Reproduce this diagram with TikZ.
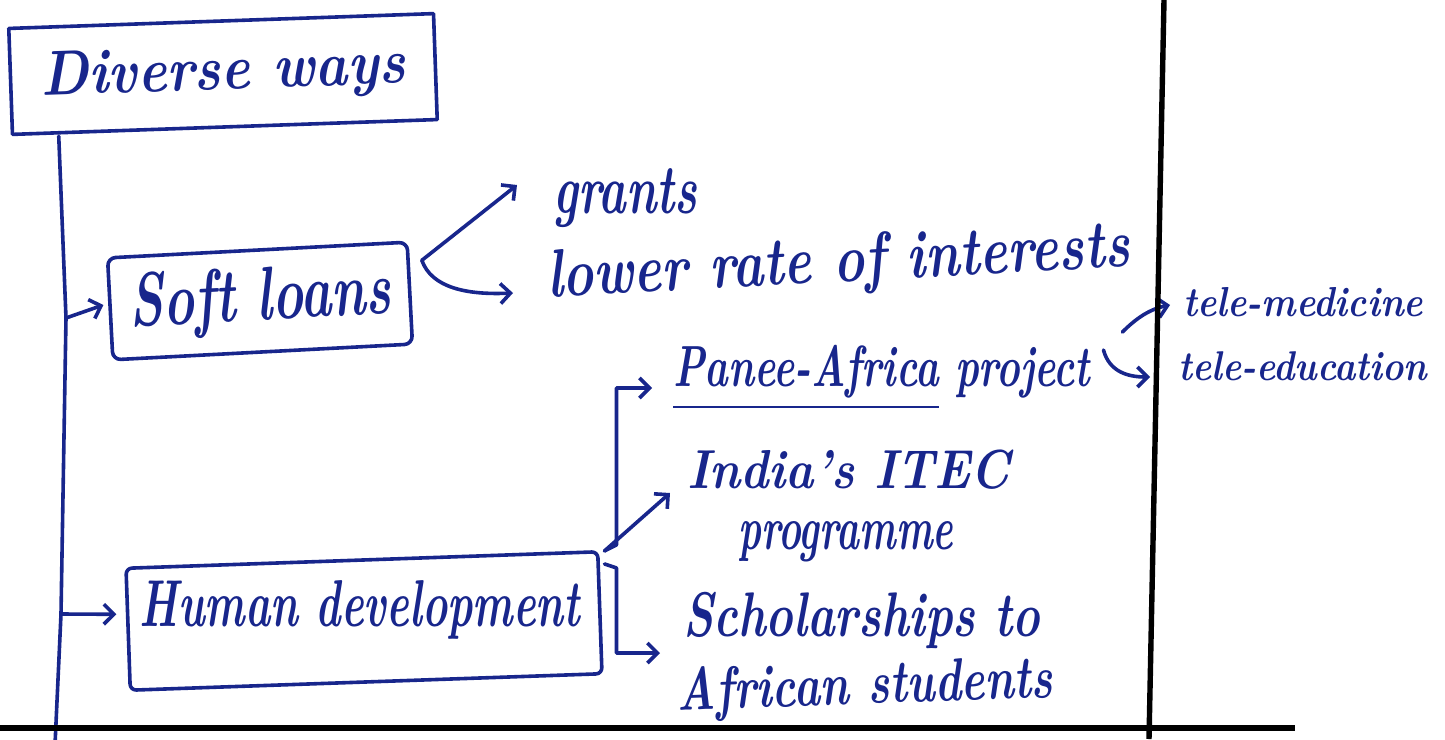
\documentclass[tikz,border=0pt]{standalone}
\usepackage{graphicx}
\usetikzlibrary{arrows.meta}
\definecolor{ink}{RGB}{24,38,140}
% scale a label to a given width (in pt), then stretch it vertically
\newcommand\fitw[3]{\scalebox{1}[#2]{\resizebox{#1pt}{!}{#3}}}
\begin{document}
\begin{tikzpicture}[x=1pt,y=-1pt,
  pen/.style={draw=ink,line width=3.6pt,line cap=round,line join=round},
  arr/.style={pen,-{Straight Barb[length=10pt,width=20pt]}},
  box/.style={pen,inner sep=0pt,text=ink,font=\bfseries\itshape},
  lbl/.style={text=ink,inner sep=0pt,font=\bfseries\itshape,anchor=west},
  rule/.style={draw=black,line width=5.4pt}]
\useasboundingbox (0,0) rectangle (1445,739);

% boxes
\node[box,minimum width=425pt,minimum height=106pt,rotate=2] (div) at (223,74) {\fitw{365}{1.15}{Diverse ways}};
\node[box,minimum width=300pt,minimum height=102pt,rotate=3,rounded corners=8pt] (soft) at (260,301) {\fitw{262}{1.45}{Soft loans}};
\node[box,minimum width=472pt,minimum height=122pt,rotate=2,rounded corners=6pt] (hd) at (364,621) {};
\node[lbl,anchor=center] (hdt) at (360,610) {\fitw{440}{1.55}{Human development}};

% labels
\node[lbl] (grants) at (553,198) {\fitw{144}{1.5}{grants}};
\node[lbl,rotate=3] (lower) at (547,280) {\fitw{583}{1.3}{lower rate of interests}};
\node[lbl] (panee) at (673,378) {\fitw{417}{1.45}{\underline{Panee-Africa} project}};
\node[lbl] (itec) at (687,470) {\fitw{323}{1.15}{India's ITEC}};
\node[lbl] (prog) at (738,542) {\fitw{215}{1.6}{programme}};
\node[lbl] (schol) at (683,620) {\fitw{357}{1.35}{Scholarships to}};
\node[lbl,rotate=2] (afr) at (677,695) {\fitw{376}{1.35}{African students}};
\node[lbl] (med) at (1183,302) {\fitw{240}{1.15}{tele-medicine}};
\node[lbl] (edu) at (1178,366) {\fitw{249}{1.15}{tele-education}};

% branch points
\coordinate (t0) at ([xshift=48pt]div.south west);
\coordinate (ts) at (66,318);
\coordinate (th) at (61,614);
\coordinate (tend) at (55,745);
\coordinate (sj) at ([shift={(13,20)}]soft.north east);
\coordinate (hj) at ([shift={(5,1)}]hd.north east);
\coordinate (hj2) at ([shift={(5,14)}]hd.north east);
\coordinate (pm) at ([shift={(32,-46)}]panee.east);
\coordinate (pe) at ([shift={(13,-28)}]panee.east);

% trunk and branches
\draw[pen] (t0) -- (ts) -- (th) -- (tend);
\draw[arr] (ts) -- ([shift={(-5,-4)}]soft.west);
\draw[arr] (th) -- ([shift={(-10,-15)}]hd.west);

\draw[arr] (sj) -- ([shift={(-36,-13)}]grants.west);
\draw[arr] (sj) .. controls +(10,28) and +(-45,2) .. ([shift={(-34,13)}]lower.west);

\draw[arr] (hj) -- ++(12,-6) |- ([shift={(-21,10)}]panee.west);
\draw[arr] (hj) -- ([shift={(-17,23)}]itec.west);
\draw[arr] (hj2) -- ++(12,4) |- ([shift={(-23,33)}]schol.west);

\draw[arr] (pm) .. controls +(14,-14) and +(-20,4) .. ([shift={(-13,3)}]med.west);
\draw[arr] (pe) .. controls +(6,22) and +(-22,0) .. ([shift={(-28,11)}]edu.west);

% page rules
\coordinate (rtop) at (1164,0);
\coordinate (rbot) at (1149,739);
\coordinate (bl) at (0,728);
\coordinate (br) at (1295,728);
\draw[rule] (rtop) -- (rbot);
\draw[rule] (bl) -- (br);
\end{tikzpicture}
\end{document}
